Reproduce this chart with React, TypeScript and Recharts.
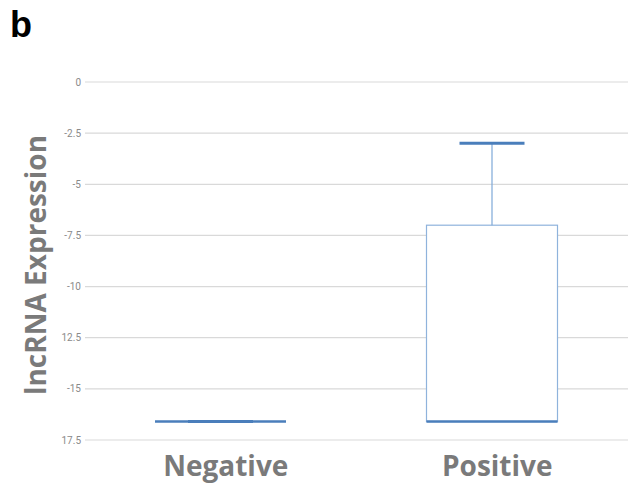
import { ComposedChart, Bar, XAxis, YAxis, CartesianGrid } from 'recharts';

// box-plot summary per group
const categories = ['Negative', 'Positive'];
const minValues = [-16.6, -16.6];
const q1Values = [-16.6, -16.6];
const medianValues = [-16.6, -16.6];
const q3Values = [-16.6, -7];
const maxValues = [-16.6, -3];

const yTicks = [0, -2.5, -5, -7.5, -10, -12.5, -15, -17.5];
const yTickLabels = ['0', '-2.5', '-5', '-7.5', '-10', '12.5', '-15', '17.5'];

const data = categories.map((name, i) => ({
  name,
  box: [q1Values[i], q3Values[i]],
  whisker: [q3Values[i], maxValues[i]],
  min: minValues[i],
  median: medianValues[i],
  q1: q1Values[i],
  q3: q3Values[i],
}));

const BoxShape = (props: any) => {
  const { x, y, width, height, payload } = props;
  const top = Math.min(y, y + height);
  const bottom = Math.max(y, y + height);
  const span = payload.q3 - payload.q1;
  const medY = span === 0 ? bottom : top + ((payload.q3 - payload.median) / span) * (bottom - top);
  return (
    <g>
      <rect x={x} y={top} width={width} height={bottom - top} fill="#fff" stroke="#8fb3dc" strokeWidth={1.2} />
      <line x1={x} x2={x + width} y1={medY} y2={medY} stroke="#4a7ebb" strokeWidth={2.5} />
    </g>
  );
};

const WhiskerShape = (props: any) => {
  const { x, y, width, height } = props;
  const top = Math.min(y, y + height);
  const bottom = Math.max(y, y + height);
  const cx = x + width / 2;
  return (
    <g>
      <line x1={cx} x2={cx} y1={top} y2={bottom} stroke="#7ea8d8" strokeWidth={1.2} />
      <line x1={x} x2={x + width} y1={top} y2={top} stroke="#4a7ebb" strokeWidth={3} />
    </g>
  );
};

const CategoryTick = ({ x, y, payload }: any) => (
  <text x={x + 5} y={y + 28} textAnchor="middle" fontFamily="Open Sans" fontWeight="bold" fontSize={28} fill="#7a7a7a">
    {payload.value}
  </text>
);

export default function App() {
  return (
    <div style={{ position: 'absolute', left: 0, top: 0, width: 633, height: 487, background: '#fff' }}>
      <div style={{ position: 'absolute', left: 10, top: 4, fontFamily: 'Liberation Sans', fontWeight: 'bold', fontSize: 36, color: '#000' }}>
        b
      </div>
      <div
        style={{
          position: 'absolute',
          left: 35,
          top: 265,
          transform: 'translate(-50%, -50%) rotate(-90deg)',
          whiteSpace: 'nowrap',
          fontFamily: 'Open Sans',
          fontWeight: 'bold',
          fontSize: 28,
          color: '#7a7a7a',
        }}
      >
        lncRNA Expression
      </div>
      <ComposedChart
        width={633}
        height={487}
        data={data}
        margin={{ top: 82, right: 5, bottom: 0, left: 0 }}
        barGap={0}
        style={{ position: 'absolute', left: 0, top: 0 }}
      >
        <CartesianGrid horizontal vertical={false} stroke="#d9d9d9" strokeWidth={1.2} />
        <XAxis dataKey="name" xAxisId="b" height={47} axisLine={false} tickLine={false} tick={<CategoryTick />} interval={0} />
        <XAxis dataKey="name" xAxisId="w" hide />
        <YAxis
          width={85}
          domain={[-17.5, 0]}
          ticks={yTicks}
          interval={0}
          axisLine={false}
          tickLine={false}
          tickMargin={2}
          tick={{ fontSize: 10, fill: '#8a8a8a', fontFamily: 'Roboto', dx: 4 }}
          tickFormatter={(v: number) => yTickLabels[yTicks.indexOf(v)] ?? String(v)}
        />
        <Bar xAxisId="b" dataKey="box" barSize={131} shape={<BoxShape />} isAnimationActive={false} />
        <Bar xAxisId="w" dataKey="whisker" barSize={65} shape={<WhiskerShape />} isAnimationActive={false} />
      </ComposedChart>
    </div>
  );
}
